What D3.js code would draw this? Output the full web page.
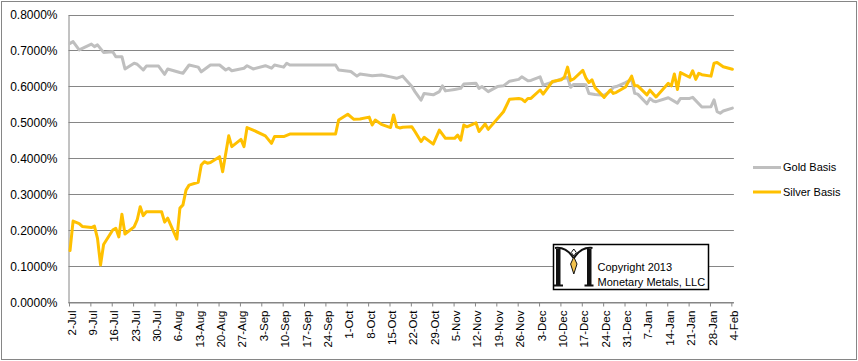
<!DOCTYPE html>
<html>
<head>
<meta charset="utf-8">
<script src="https://cdn.jsdelivr.net/npm/d3@7"></script>
<style>
  html, body { margin: 0; padding: 0; background: #fff; }
  svg { display: block; }
  text { font-family: "Liberation Sans", Arial, sans-serif; fill: #000; }
</style>
</head>
<body>
<svg id="chart" width="858" height="361"></svg>
<script>
// ---------------- DATA ----------------
const goldDates = [
  "2012-07-02","2012-07-03","2012-07-05","2012-07-09","2012-07-10","2012-07-11","2012-07-13",
  "2012-07-16","2012-07-17","2012-07-19","2012-07-20","2012-07-23","2012-07-24","2012-07-26",
  "2012-07-27","2012-07-31","2012-08-02","2012-08-03","2012-08-07","2012-08-08","2012-08-10",
  "2012-08-13","2012-08-14","2012-08-17","2012-08-20","2012-08-22","2012-08-23","2012-08-24",
  "2012-08-28","2012-08-29","2012-08-31","2012-09-04","2012-09-06","2012-09-07","2012-09-10",
  "2012-09-11","2012-09-12","2012-09-27","2012-09-28","2012-10-02","2012-10-04","2012-10-05",
  "2012-10-09","2012-10-12","2012-10-15","2012-10-17","2012-10-19","2012-10-22","2012-10-23",
  "2012-10-25","2012-10-26","2012-10-29","2012-10-31","2012-11-01","2012-11-02","2012-11-05",
  "2012-11-07","2012-11-08","2012-11-12","2012-11-13","2012-11-14","2012-11-16","2012-11-19",
  "2012-11-21","2012-11-23","2012-11-26","2012-11-27","2012-11-29","2012-11-30","2012-12-03",
  "2012-12-04","2012-12-07","2012-12-10","2012-12-11","2012-12-12","2012-12-13","2012-12-14",
  "2012-12-17","2012-12-18","2012-12-19","2012-12-21","2012-12-24","2012-12-26","2012-12-27",
  "2012-12-28","2012-12-31","2013-01-02","2013-01-03","2013-01-04","2013-01-07","2013-01-08",
  "2013-01-09","2013-01-10","2013-01-14","2013-01-17","2013-01-18","2013-01-21","2013-01-22",
  "2013-01-25","2013-01-28","2013-01-29","2013-01-30","2013-01-31","2013-02-01","2013-02-04"
];
const goldValues = [
  0.721,0.726,0.703,0.719,0.712,0.717,0.696,
  0.698,0.684,0.684,0.650,0.666,0.663,0.647,
  0.658,0.658,0.635,0.650,0.640,0.638,0.661,
  0.655,0.642,0.661,0.661,0.647,0.652,0.645,
  0.652,0.659,0.650,0.659,0.652,0.661,0.655,
  0.666,0.661,0.661,0.647,0.643,0.630,0.636,
  0.631,0.633,0.628,0.624,0.630,0.601,0.587,
  0.563,0.582,0.578,0.587,0.603,0.589,0.593,
  0.596,0.608,0.610,0.596,0.601,0.587,0.601,
  0.603,0.616,0.621,0.628,0.617,0.618,0.628,
  0.605,0.613,0.622,0.624,0.626,0.599,0.607,
  0.607,0.606,0.582,0.579,0.577,0.588,0.599,
  0.601,0.612,0.621,0.582,0.580,0.553,0.568,
  0.561,0.559,0.570,0.555,0.568,0.568,0.571,
  0.544,0.545,0.564,0.531,0.527,0.533,0.541
];

const silverDates = [
  "2012-07-02","2012-07-03","2012-07-05","2012-07-06","2012-07-09","2012-07-10","2012-07-11",
  "2012-07-12","2012-07-13","2012-07-16","2012-07-17","2012-07-18","2012-07-19","2012-07-20",
  "2012-07-23","2012-07-24","2012-07-25","2012-07-26","2012-07-27","2012-08-01","2012-08-02",
  "2012-08-03","2012-08-06","2012-08-07","2012-08-08","2012-08-09","2012-08-10","2012-08-13",
  "2012-08-14","2012-08-15","2012-08-16","2012-08-17","2012-08-20","2012-08-21","2012-08-23",
  "2012-08-24","2012-08-27","2012-08-28","2012-08-29","2012-08-31","2012-09-04","2012-09-06",
  "2012-09-07","2012-09-10","2012-09-12","2012-09-27","2012-09-28","2012-10-01","2012-10-03",
  "2012-10-05","2012-10-08","2012-10-09","2012-10-10","2012-10-12","2012-10-15","2012-10-16",
  "2012-10-17","2012-10-18","2012-10-19","2012-10-22","2012-10-23","2012-10-25","2012-10-26",
  "2012-10-29","2012-10-31","2012-11-02","2012-11-05","2012-11-06","2012-11-07","2012-11-08",
  "2012-11-09","2012-11-12","2012-11-13","2012-11-15","2012-11-16","2012-11-21","2012-11-23",
  "2012-11-26","2012-11-27","2012-11-28","2012-11-29","2012-11-30","2012-12-03","2012-12-04",
  "2012-12-07","2012-12-10","2012-12-11","2012-12-12","2012-12-13","2012-12-14","2012-12-17",
  "2012-12-18","2012-12-19","2012-12-20","2012-12-21","2012-12-24","2012-12-26","2012-12-27",
  "2012-12-28","2012-12-31","2013-01-02","2013-01-03","2013-01-04","2013-01-07","2013-01-08",
  "2013-01-10","2013-01-14","2013-01-15","2013-01-16","2013-01-17","2013-01-18","2013-01-21",
  "2013-01-22","2013-01-23","2013-01-24","2013-01-25","2013-01-28","2013-01-29","2013-01-30",
  "2013-02-01","2013-02-04"
];
const silverValues = [
  0.145,0.227,0.220,0.212,0.209,0.213,0.179,
  0.105,0.162,0.202,0.207,0.183,0.246,0.191,
  0.211,0.230,0.267,0.242,0.253,0.253,0.224,
  0.235,0.177,0.263,0.272,0.313,0.327,0.335,
  0.383,0.392,0.388,0.390,0.406,0.364,0.464,
  0.434,0.454,0.434,0.487,0.480,0.464,0.443,
  0.462,0.462,0.469,0.469,0.508,0.524,0.510,
  0.511,0.516,0.494,0.508,0.496,0.487,0.522,
  0.489,0.486,0.488,0.489,0.476,0.448,0.460,
  0.441,0.480,0.457,0.457,0.466,0.452,0.494,
  0.489,0.500,0.476,0.497,0.482,0.531,0.566,
  0.568,0.566,0.559,0.568,0.568,0.5915,0.580,
  0.615,0.620,0.628,0.655,0.618,0.622,0.646,
  0.625,0.612,0.620,0.598,0.571,0.5915,0.582,
  0.585,0.600,0.630,0.603,0.603,0.578,0.591,
  0.572,0.610,0.603,0.636,0.593,0.640,0.627,
  0.645,0.621,0.638,0.634,0.630,0.666,0.668,
  0.656,0.649
];

const xTickLabels = [
  "2-Jul","9-Jul","16-Jul","23-Jul","30-Jul","6-Aug","13-Aug","20-Aug","27-Aug",
  "3-Sep","10-Sep","17-Sep","24-Sep","1-Oct","8-Oct","15-Oct","22-Oct","29-Oct",
  "5-Nov","12-Nov","19-Nov","26-Nov","3-Dec","10-Dec","17-Dec","24-Dec","31-Dec",
  "7-Jan","14-Jan","21-Jan","28-Jan","4-Feb"
];
const yTickValues = [0, 0.1, 0.2, 0.3, 0.4, 0.5, 0.6, 0.7, 0.8];
const seriesNames = ["Gold Basis", "Silver Basis"];
const seriesColors = ["#BFBFBF", "#FFC000"];
const watermarkLines = ["Copyright 2013", "Monetary Metals, LLC"];

// ---------------- LAYOUT ----------------
const svg = d3.select("#chart");
const parse = d3.utcParse("%Y-%m-%d");
const startDate = parse("2012-07-02");
const endDate = parse("2013-02-05");
const plotL = 68.5, plotR = 733.9, plotT = 15, plotB = 302.7;

const x = d3.scaleUtc().domain([startDate, endDate]).range([plotL, plotR]);
const y = d3.scaleLinear().domain([0, 0.8]).range([plotB, plotT]);
const crisp = v => Math.floor(v) + 0.5;

// outer border
svg.append("rect").attr("x", 1.5).attr("y", 1.5).attr("width", 855).attr("height", 358)
  .attr("fill", "#fff").attr("stroke", "#868686").attr("stroke-width", 1);

// gridlines
svg.append("g").selectAll("line").data(yTickValues).join("line")
  .attr("x1", plotL).attr("x2", plotR)
  .attr("y1", d => crisp(y(d))).attr("y2", d => crisp(y(d)))
  .attr("stroke", "#868686").attr("stroke-width", 1);

// y axis
const yAxis = d3.axisLeft(y).tickValues(yTickValues).tickSize(0).tickPadding(11)
  .tickFormat(d => d.toFixed(4) + "%");
const gy = svg.append("g").attr("transform", `translate(${crisp(plotL)},0)`).call(yAxis);
gy.select(".domain").attr("stroke", "#868686");
gy.selectAll("text").style("font-size", "12px").attr("fill", "#000");

// x axis
const tickDates = xTickLabels.map((s, i) => d3.utcDay.offset(startDate, 7 * i));
const xAxis = d3.axisBottom(x).tickValues(tickDates).tickSize(4).tickPadding(0)
  .tickFormat((d, i) => xTickLabels[i]);
const gx = svg.append("g").attr("transform", `translate(0,${crisp(plotB)})`).call(xAxis);
gx.select(".domain").attr("stroke", "#868686").attr("d", `M${plotL},0.5H${plotR}`);
gx.selectAll(".tick line").attr("stroke", "#868686").attr("transform", "translate(0.5,0)");
gx.selectAll(".tick text")
  .style("font-size", "11.5px").attr("fill", "#000")
  .attr("text-anchor", "end")
  .attr("transform", "translate(2.5,8) rotate(-90)")
  .attr("x", 0).attr("y", 0).attr("dy", "0.35em");

// lines
const mid = 12 * 3600 * 1000;
const line = d3.line().x(d => x(new Date(d.date.getTime() + mid))).y(d => y(d.v))
  .curve(d3.curveLinear);
const goldData = goldDates.map((s, i) => ({ date: parse(s), v: goldValues[i] }));
const silverData = silverDates.map((s, i) => ({ date: parse(s), v: silverValues[i] }));
[goldData, silverData].forEach((data, i) => {
  svg.append("path").datum(data).attr("d", line)
    .attr("fill", "none").attr("stroke", seriesColors[i])
    .attr("stroke-width", 3).attr("stroke-linejoin", "round").attr("stroke-linecap", "round");
});

// legend
const lg = svg.append("g");
seriesNames.forEach((name, i) => {
  const ly = 167.5 + i * 24.5;
  lg.append("line").attr("x1", 753).attr("x2", 781).attr("y1", ly).attr("y2", ly)
    .attr("stroke", seriesColors[i]).attr("stroke-width", 3);
  lg.append("text").attr("x", 783).attr("y", ly).attr("dy", "0.35em")
    .style("font-size", "11px").text(name);
});

// watermark box
const wm = svg.append("g");
wm.append("rect").attr("x", 553.5).attr("y", 244.5).attr("width", 155).attr("height", 45)
  .attr("fill", "#fff").attr("stroke", "#000").attr("stroke-width", 1.5);
// logo "M"
wm.append("rect").attr("x", 556).attr("y", 249).attr("width", 4.5).attr("height", 37).attr("fill", "#111");
wm.append("rect").attr("x", 587).attr("y", 249).attr("width", 4.5).attr("height", 37).attr("fill", "#111");
wm.append("rect").attr("x", 554).attr("y", 284.5).attr("width", 9).attr("height", 2).attr("fill", "#111");
wm.append("rect").attr("x", 584.5).attr("y", 284.5).attr("width", 9).attr("height", 2).attr("fill", "#111");
wm.append("path").attr("d", "M555,248 C563,247 569,251 573.5,258")
  .attr("fill", "none").attr("stroke", "#111").attr("stroke-width", 2);
wm.append("path").attr("d", "M592.5,248 C584.5,247 578.5,251 574,258")
  .attr("fill", "none").attr("stroke", "#111").attr("stroke-width", 2);
wm.append("path").attr("d", "M573.8,249 L576.3,252.5 L573.8,256 L571.3,252.5 Z")
  .attr("fill", "#fff").attr("stroke", "#111").attr("stroke-width", 1);
wm.append("path").attr("d", "M573.8,257 L577,264 L573.8,274 L570.6,264 Z")
  .attr("fill", "#F2C24F").attr("stroke", "#111").attr("stroke-width", 1);
watermarkLines.forEach((t, i) => {
  wm.append("text").attr("x", 597.5).attr("y", 270.5 + i * 15)
    .style("font-size", "11px").text(t);
});
</script>
</body>
</html>
